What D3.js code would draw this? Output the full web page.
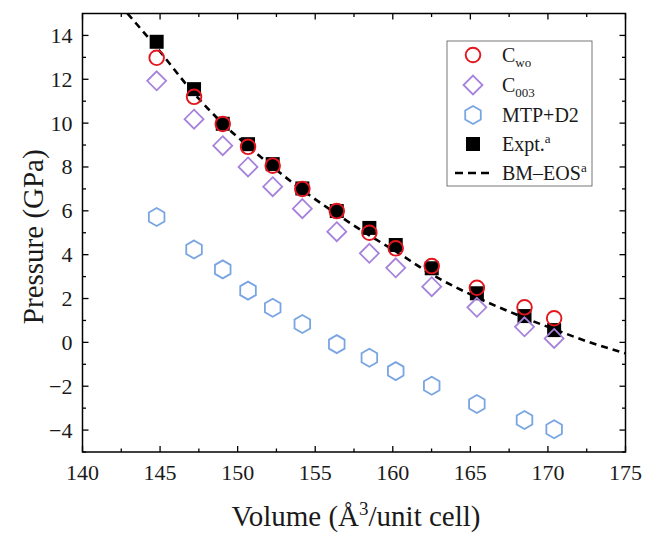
<!DOCTYPE html>
<html><head><meta charset="utf-8">
<script src="https://cdn.jsdelivr.net/npm/d3@7"></script>
<style>body{margin:0;background:#fff}svg{display:block}</style>
</head><body><svg id="c" width="646" height="536" font-family="'Liberation Serif', 'Times New Roman', serif"></svg>
<script>
const volumes = [144.78,147.19,149.04,150.67,152.26,154.17,156.39,158.49,160.19,162.51,165.42,168.49,170.4];
const cwo   = [12.98,11.2,9.96,8.92,8.06,7.0,5.99,5.0,4.29,3.48,2.49,1.6,1.1];
const c003  = [11.93,10.18,8.97,8.0,7.1,6.1,5.05,4.06,3.4,2.54,1.6,0.71,0.18];
const mtp   = [5.72,4.24,3.33,2.36,1.58,0.84,-0.08,-0.70,-1.31,-1.98,-2.81,-3.54,-3.96];
const expt  = [13.71,11.55,9.97,9.04,8.13,7.02,5.99,5.22,4.44,3.38,2.24,1.2,0.56];
const eosV  = [142.9,144.78,147.19,149.04,150.67,152.26,154.17,156.39,158.49,160.19,162.51,165.42,168.49,170.4,172.5,175];
const eosP  = [15.0,13.45,11.35,9.98,8.95,8.0,6.95,5.85,4.88,4.15,3.1,2.05,1.12,0.6,0.05,-0.5];
const xTicks = [140,145,150,155,160,165,170,175];
const yTicks = [-4,-2,0,2,4,6,8,10,12,14];

const FONT = "'Liberation Serif', 'Times New Roman', serif";
const TXT = "#1a1a1a";
const svg = d3.select("#c");
const L=82.5, R=625.5, T=13.5, B=452;
const x = d3.scaleLinear().domain([140,175]).range([L,R]);
const y = d3.scaleLinear().domain([-5,15]).range([B,T]);

const xMinor = d3.range(142.5,175,5);
const yMinor = d3.range(-5,15,2);

function axes(){
  const g = svg.append("g").attr("stroke","#000").attr("stroke-width",1.3);
  const maj=6, min=3.5;
  xTicks.forEach(v=>{g.append("line").attr("x1",x(v)).attr("x2",x(v)).attr("y1",B).attr("y2",B-maj);
                     g.append("line").attr("x1",x(v)).attr("x2",x(v)).attr("y1",T).attr("y2",T+maj);});
  xMinor.forEach(v=>{g.append("line").attr("x1",x(v)).attr("x2",x(v)).attr("y1",B).attr("y2",B-min);
                     g.append("line").attr("x1",x(v)).attr("x2",x(v)).attr("y1",T).attr("y2",T+min);});
  yTicks.forEach(v=>{g.append("line").attr("y1",y(v)).attr("y2",y(v)).attr("x1",L).attr("x2",L+maj);
                     g.append("line").attr("y1",y(v)).attr("y2",y(v)).attr("x1",R).attr("x2",R-maj);});
  yMinor.forEach(v=>{g.append("line").attr("y1",y(v)).attr("y2",y(v)).attr("x1",L).attr("x2",L+min);
                     g.append("line").attr("y1",y(v)).attr("y2",y(v)).attr("x1",R).attr("x2",R-min);});
  svg.append("rect").attr("x",L).attr("y",T).attr("width",R-L).attr("height",B-T)
    .attr("fill","none").attr("stroke","#000").attr("stroke-width",1.5);
  xTicks.forEach(v=>svg.append("text").attr("x",x(v)).attr("y",B+28).attr("text-anchor","middle")
    .attr("font-family",FONT).attr("font-size",22).attr("fill",TXT).text(v));
  yTicks.forEach(v=>svg.append("text").attr("x",L-10).attr("y",y(v)+7.5).attr("text-anchor","end")
    .attr("font-family",FONT).attr("font-size",22).attr("fill",TXT).text(v<0?"\u2212"+Math.abs(v):v));
}
axes();

const xt = svg.append("text").attr("x",(L+R)/2+2).attr("y",526).attr("text-anchor","middle")
  .attr("font-family",FONT).attr("font-size",29).attr("fill",TXT);
xt.append("tspan").text("Volume (\u00C5");
xt.append("tspan").attr("dy",-11).attr("font-size",19).text("3");
xt.append("tspan").attr("dy",11).text("/unit cell)");
svg.append("text").attr("transform",`translate(43,${(T+B)/2+4}) rotate(-90)`).attr("text-anchor","middle")
  .attr("font-family",FONT).attr("font-size",29).attr("fill",TXT).text("Pressure (GPa)");

const plot = svg.append("g");
svg.append("clipPath").attr("id","clip").append("rect").attr("x",L).attr("y",T).attr("width",R-L).attr("height",B-T);

const hex = d3.symbol().type({draw(ctx,size){const r=Math.sqrt(size);for(let i=0;i<6;i++){const a=Math.PI/3*i;const px=r*Math.sin(a),py=-r*Math.cos(a);i?ctx.lineTo(px,py):ctx.moveTo(px,py);}ctx.closePath();}}).size(81);
const diamond = d3.symbol().type({draw(ctx,size){const r=Math.sqrt(size);ctx.moveTo(0,-r);ctx.lineTo(r,0);ctx.lineTo(0,r);ctx.lineTo(-r,0);ctx.closePath();}}).size(90);

const cRed="#e3161e", cPurple="#a782dc", cBlue="#79a5e3";

plot.selectAll(".sq").data(volumes).enter().append("rect")
  .attr("x",(d)=>x(d)-7).attr("y",(d,i)=>y(expt[i])-7).attr("width",14).attr("height",14).attr("fill","#000");
const line = d3.line().x(d=>x(d[0])).y(d=>y(d[1])).curve(d3.curveMonotoneX);
plot.append("path").datum(eosV.map((v,i)=>[v,eosP[i]])).attr("d",line).attr("fill","none")
  .attr("stroke","#000").attr("stroke-width",2.6).attr("stroke-dasharray","7,5").attr("clip-path","url(#clip)");
plot.selectAll(".hx").data(volumes).enter().append("path").attr("d",hex)
  .attr("transform",(d,i)=>`translate(${x(d)},${y(mtp[i])})`).attr("fill","none").attr("stroke",cBlue).attr("stroke-width",1.8);
plot.selectAll(".dm").data(volumes).enter().append("path").attr("d",diamond)
  .attr("transform",(d,i)=>`translate(${x(d)},${y(c003[i])})`).attr("fill","none").attr("stroke",cPurple).attr("stroke-width",1.8);
plot.selectAll(".ci").data(volumes).enter().append("circle")
  .attr("cx",d=>x(d)).attr("cy",(d,i)=>y(cwo[i])).attr("r",7.3).attr("fill","none").attr("stroke",cRed).attr("stroke-width",1.9);

const lg = svg.append("g");
lg.append("rect").attr("x",447).attr("y",41).attr("width",145).attr("height",145).attr("fill","#fff")
  .attr("stroke","#555").attr("stroke-width",0.8);
const mx=473, tx=502, rows=[55,85,115,144,173];
lg.append("circle").attr("cx",mx).attr("cy",rows[0]).attr("r",7.3).attr("fill","none").attr("stroke",cRed).attr("stroke-width",1.9);
lg.append("path").attr("d",diamond).attr("transform",`translate(${mx},${rows[1]})`).attr("fill","none").attr("stroke",cPurple).attr("stroke-width",1.8);
lg.append("path").attr("d",hex).attr("transform",`translate(${mx},${rows[2]})`).attr("fill","none").attr("stroke",cBlue).attr("stroke-width",1.8);
lg.append("rect").attr("x",mx-7).attr("y",rows[3]-7).attr("width",14).attr("height",14).attr("fill","#000");
lg.append("line").attr("x1",455).attr("x2",491).attr("y1",rows[4]).attr("y2",rows[4]).attr("stroke","#000")
  .attr("stroke-width",2.6).attr("stroke-dasharray","8,5");
function ltext(yy, main, sub, sup){
  const t = lg.append("text").attr("x",tx).attr("y",yy+6.5).attr("font-family",FONT).attr("font-size",20).attr("fill",TXT);
  t.append("tspan").text(main);
  if(sub) t.append("tspan").attr("dy",5).attr("font-size",13).text(sub);
  if(sup) t.append("tspan").attr("dy",-8).attr("font-size",13).text(sup);
}
ltext(rows[0],"C","wo");
ltext(rows[1],"C","003");
ltext(rows[2],"MTP+D2");
ltext(rows[3],"Expt.",null,"a");
ltext(rows[4],"BM\u2013EOS",null,"a");
</script></body></html>
